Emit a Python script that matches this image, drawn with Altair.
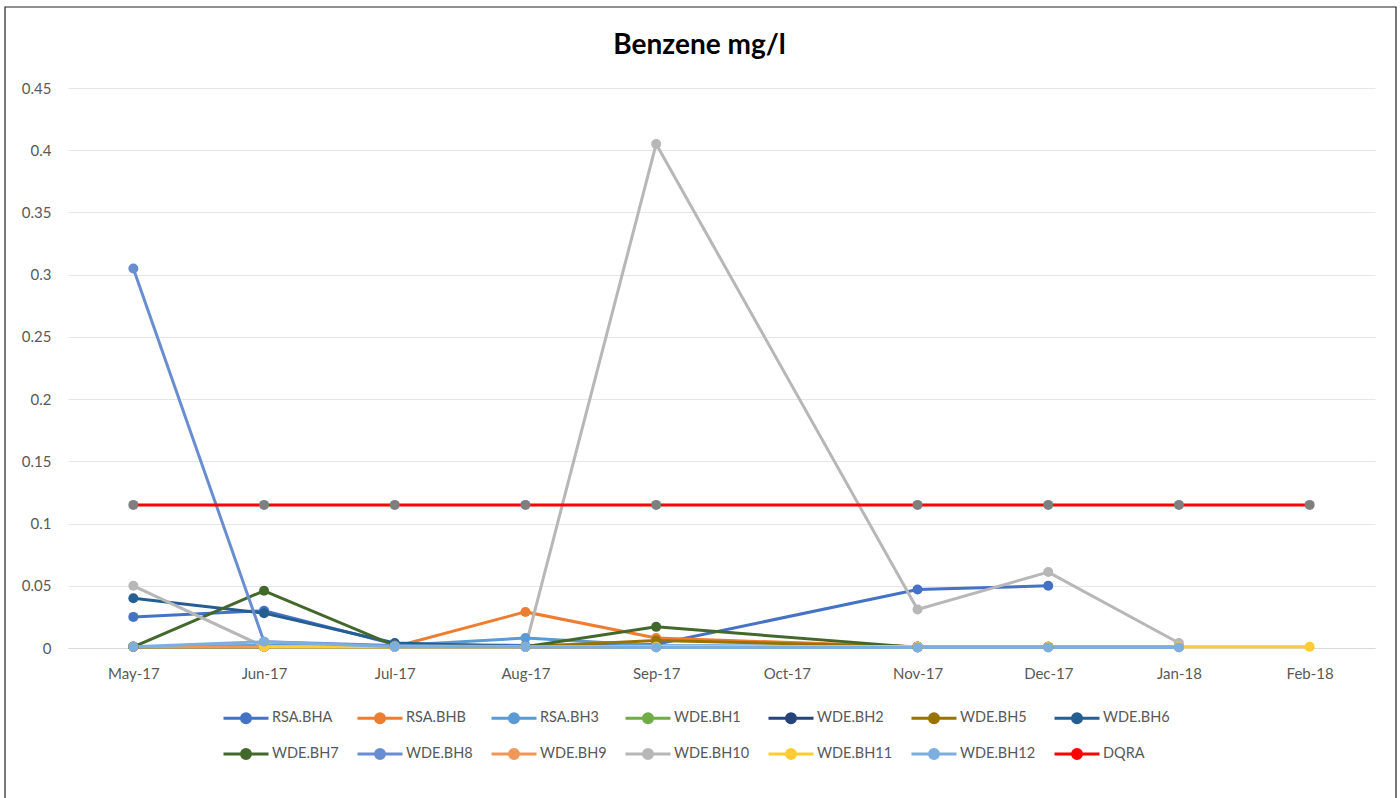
import altair as alt
import pandas as pd

months = ["May-17", "Jun-17", "Jul-17", "Aug-17", "Sep-17", "Oct-17",
          "Nov-17", "Dec-17", "Jan-18", "Feb-18"]

series_names = ["RSA.BHA", "RSA.BHB", "RSA.BH3", "WDE.BH1", "WDE.BH2", "WDE.BH5",
                "WDE.BH6", "WDE.BH7", "WDE.BH8", "WDE.BH9", "WDE.BH10", "WDE.BH11",
                "WDE.BH12", "DQRA"]

colors = ["#4472C4", "#ED7D31", "#5B9BD5", "#70AD47", "#264478", "#997300",
          "#255E91", "#43682B", "#698ED0", "#F1975A", "#B7B7B7", "#FFCD33",
          "#7CAFDD", "#FF0000"]

N = None
rsa_bha = [0.025, 0.030, 0.003, 0.002, 0.003, N, 0.047, 0.050, N, N]
rsa_bhb = [0.001, 0.001, 0.001, 0.029, 0.008, N, 0.001, N, N, N]
rsa_bh3 = [0.001, 0.002, 0.002, 0.008, 0.002, N, 0.001, 0.001, 0.001, N]
wde_bh1 = [0.001, 0.001, 0.001, 0.001, 0.001, N, 0.001, 0.001, 0.001, N]
wde_bh2 = [0.001, 0.001, 0.001, 0.001, 0.001, N, 0.001, 0.001, 0.001, N]
wde_bh5 = [0.001, 0.001, 0.001, 0.001, 0.006, N, 0.001, N, N, N]
wde_bh6 = [0.040, 0.028, 0.004, 0.001, 0.001, N, 0.001, N, N, N]
wde_bh7 = [0.001, 0.046, 0.002, 0.001, 0.017, N, 0.0005, N, N, N]
wde_bh8 = [0.305, 0.005, 0.002, 0.001, 0.001, N, 0.001, N, N, N]
wde_bh9 = [0.001, 0.001, 0.001, 0.001, 0.001, N, 0.001, N, N, N]
wde_bh10 = [0.050, 0.001, 0.001, 0.001, 0.405, N, 0.031, 0.061, 0.004, N]
wde_bh11 = [N, 0.001, 0.001, 0.001, 0.001, N, 0.001, 0.001, 0.001, 0.001]
wde_bh12 = [0.001, 0.005, 0.001, 0.001, 0.0005, N, 0.0005, 0.0005, 0.0005, N]
dqra = [0.115, 0.115, 0.115, 0.115, 0.115, N, 0.115, 0.115, 0.115, 0.115]

all_series = [rsa_bha, rsa_bhb, rsa_bh3, wde_bh1, wde_bh2, wde_bh5, wde_bh6,
              wde_bh7, wde_bh8, wde_bh9, wde_bh10, wde_bh11, wde_bh12, dqra]

rows = []
for si, (name, vals) in enumerate(zip(series_names, all_series)):
    for m, v in zip(months, vals):
        if v is not None:
            rows.append({"series": name, "order": si, "month": m, "value": v})
df = pd.DataFrame(rows)

FONT = "Lato"
LABEL = "#595959"

x_enc = alt.X("month:N", sort=months, scale=alt.Scale(domain=months),
              axis=alt.Axis(title=None, labelAngle=0, labelFont=FONT, labelFontSize=15,
                            labelColor=LABEL, ticks=False, domainColor="#D9D9D9",
                            labelPadding=18, grid=False))
y_enc = alt.Y("value:Q", scale=alt.Scale(domain=[0, 0.45], nice=False),
              axis=alt.Axis(title=None, values=[i * 0.05 for i in range(10)],
                            format=".2~f", labelFont=FONT, labelFontSize=15,
                            labelColor=LABEL, ticks=False, domain=False,
                            gridColor="#E6E6E6", labelPadding=17))

sym = "M-1,0L1,0M-0.2,0A0.2,0.2,0,1,0,0.2,0A0.2,0.2,0,1,0,-0.2,0Z"

color_enc = alt.Color("series:N", sort=series_names,
                      scale=alt.Scale(domain=series_names, range=colors),
                      legend=alt.Legend(title=None, orient="none", legendX=154, legendY=606,
                                        direction="horizontal", columns=7,
                                        symbolType=sym, symbolSize=2025, symbolStrokeWidth=3,
                                        labelFont=FONT, labelFontSize=14.5, labelColor=LABEL,
                                        columnPadding=12, rowPadding=1, labelOffset=2))

base = alt.Chart(df)
lines = base.mark_line(strokeWidth=3).encode(x=x_enc, y=y_enc, color=color_enc,
                                            order=alt.Order("order:Q"))
points = base.transform_filter(alt.datum.series != "DQRA").mark_point(
    filled=True, size=100, opacity=1).encode(x=x_enc, y=y_enc, color=color_enc)
dq_points = base.transform_filter(alt.datum.series == "DQRA").mark_point(
    filled=True, size=100, opacity=1, color="#7F7F7F").encode(x=x_enc, y=y_enc)

frame = alt.Chart(pd.DataFrame({"f": [0]})).mark_rect(
    fill=None, stroke="#222222", strokeWidth=1.2).encode(
    x=alt.value(-63), x2=alt.value(1328), y=alt.value(-81), y2=alt.value(730))

chart = alt.layer(lines, points, dq_points, frame).properties(
    width=1307, height=560,
    autosize=alt.AutoSizeParams(type="none"),
    padding={"left": 68, "top": 88, "right": 25, "bottom": 150},
    title=alt.TitleParams("Benzene mg/l", font=FONT, fontSize=28, fontWeight="bold",
                          color="#000000", anchor="middle", dx=-22, offset=0, dy=76,
                          baseline="alphabetic"),
    background="white",
).configure_view(stroke=None)

chart.save("out.html", embed_options={"renderer": "svg", "actions": False})
